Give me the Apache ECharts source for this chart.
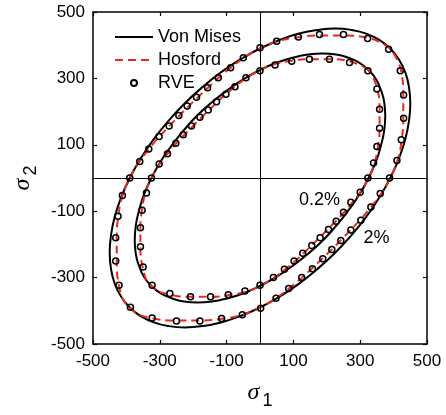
<!DOCTYPE html>
<html><head><meta charset="utf-8">
<script src="https://cdn.jsdelivr.net/npm/echarts@6/dist/echarts.min.js"></script>
<style>html,body{margin:0;padding:0;background:#fff}#c{width:446px;height:415px}</style>
</head><body><div id="c"></div>
<script>
// Axis ticks
const xTicks = [-500, -300, -100, 100, 300, 500];
const yTicks = [-500, -300, -100, 100, 300, 500];

// Von Mises yield loci (sigma1, sigma2)
const vonMises2 = [[390,390],[357,416],[318,435],[274,446],[225,450],[172,446],[117,435],[59,416],[0,390],[-59,357],[-117,318],[-172,274],[-225,225],[-274,172],[-318,117],[-357,59],[-390,0],[-416,-59],[-435,-117],[-446,-172],[-450,-225],[-446,-274],[-435,-318],[-416,-357],[-390,-390],[-357,-416],[-318,-435],[-274,-446],[-225,-450],[-172,-446],[-117,-435],[-59,-416],[0,-390],[59,-357],[117,-318],[172,-274],[225,-225],[274,-172],[318,-117],[357,-59],[390,0],[416,59],[435,117],[446,172],[450,225],[446,274],[435,318],[416,357],[390,390]];
const vonMises02 = [[325,325],[298,347],[265,362],[228,372],[188,375],[144,372],[97,362],[49,347],[0,325],[-49,298],[-97,265],[-144,228],[-188,188],[-228,144],[-265,97],[-298,49],[-325,0],[-347,-49],[-362,-97],[-372,-144],[-375,-188],[-372,-228],[-362,-265],[-347,-298],[-325,-325],[-298,-347],[-265,-362],[-228,-372],[-188,-375],[-144,-372],[-97,-362],[-49,-347],[0,-325],[49,-298],[97,-265],[144,-228],[188,-188],[228,-144],[265,-97],[298,-49],[325,0],[347,49],[362,97],[372,144],[375,188],[372,228],[362,265],[347,298],[325,325]];

// Hosford yield loci
const hosford2 = [[390,390],[324,422],[248,429],[178,429],[114,424],[54,412],[0,390],[-48,362],[-89,331],[-125,301],[-157,271],[-186,243],[-215,215],[-243,186],[-271,157],[-301,125],[-331,89],[-362,48],[-390,0],[-412,-54],[-424,-114],[-429,-178],[-429,-248],[-422,-324],[-390,-390],[-324,-422],[-248,-429],[-178,-429],[-114,-424],[-54,-412],[0,-390],[48,-362],[89,-331],[125,-301],[157,-271],[186,-243],[215,-215],[243,-186],[271,-157],[301,-125],[331,-89],[362,-48],[390,0],[412,54],[424,114],[429,178],[429,248],[422,324],[390,390]];
const hosford02 = [[325,325],[270,351],[206,358],[148,358],[95,353],[45,343],[0,325],[-40,302],[-74,276],[-104,251],[-131,226],[-155,202],[-179,179],[-202,155],[-226,131],[-251,104],[-276,74],[-302,40],[-325,0],[-343,-45],[-353,-95],[-358,-148],[-358,-206],[-351,-270],[-325,-325],[-270,-351],[-206,-358],[-148,-358],[-95,-353],[-45,-343],[0,-325],[40,-302],[74,-276],[104,-251],[131,-226],[155,-202],[179,-179],[202,-155],[226,-131],[251,-104],[276,-74],[302,-40],[325,0],[343,45],[353,95],[358,148],[358,206],[351,270],[325,325]];

// RVE points
const rve2 = [[0,392],[50,412],[115,425],[178,432],[250,432],[322,420],[385,388],[420,323],[430,250],[430,180],[423,115],[410,53],[388,0],[360,-47],[332,-87],[302,-127],[272,-157],[242,-188],[215,-215],[188,-243],[157,-273],[125,-300],[86,-333],[48,-362],[2,-392],[-53,-412],[-115,-423],[-180,-431],[-250,-431],[-323,-422],[-388,-389],[-422,-323],[-432,-250],[-432,-180],[-425,-115],[-412,-53],[-390,0],[-360,50],[-333,87],[-302,125],[-272,157],[-243,188],[-218,217],[-190,243],[-157,272],[-125,302],[-88,332],[-50,362]];
const rve02 = [[0,323],[45,340],[95,352],[148,358],[208,358],[268,348],[323,323],[350,268],[358,207],[358,150],[350,95],[340,45],[323,0],[300,-43],[272,-73],[250,-103],[228,-130],[205,-155],[180,-180],[155,-203],[128,-227],[102,-250],[73,-275],[40,-300],[0,-323],[-45,-340],[-95,-352],[-148,-358],[-208,-358],[-270,-348],[-323,-323],[-350,-268],[-358,-207],[-358,-150],[-353,-97],[-340,-45],[-325,0],[-302,42],[-277,73],[-252,105],[-230,130],[-205,157],[-180,183],[-155,205],[-130,230],[-102,252],[-75,275],[-42,302]];

// Curve annotations
const annotations = [[178,-66,'0.2%'],[349,-180,'2%']];

const FONT = '"Liberation Sans", Arial, Helvetica, sans-serif';
const nameRich = {
  s: {fontFamily: '"Liberation Serif", "Times New Roman", serif', fontStyle: 'italic', fontSize: 24, color: '#000'},
  n: {fontFamily: FONT, fontSize: 18, color: '#000', padding: [16, 0, 0, 3]}
};
function axisCommon(ticks) {
  return {
    type: 'value', min: ticks[0], max: ticks[ticks.length - 1], interval: ticks[1] - ticks[0],
    axisLine: {show: true, onZero: false, lineStyle: {color: '#000', width: 1.5}},
    axisTick: {show: true, inside: true, length: 4, lineStyle: {color: '#000', width: 1.2}},
    splitLine: {show: false}
  };
}
const chart = echarts.init(document.getElementById('c'), null, {renderer: 'canvas'});
const VM = {type: 'line', smooth: true, symbol: 'none', z: 2,
  lineStyle: {color: '#000', width: 2}, itemStyle: {color: '#000'}};
const HF = {type: 'line', smooth: true, symbol: 'none', z: 3,
  lineStyle: {color: '#e8291c', width: 2, type: [8, 5]}, itemStyle: {color: '#e8291c'}};
const RV = {type: 'scatter', symbol: 'circle', symbolSize: 6, z: 4,
  itemStyle: {color: 'rgba(255,255,255,0)', borderColor: '#000', borderWidth: 1.5, opacity: 1}};
chart.setOption({
  animation: false,
  backgroundColor: '#fff',
  textStyle: {fontFamily: FONT},
  grid: {left: 93, top: 12, width: 334, height: 332, containLabel: false},
  legend: {
    orient: 'vertical', left: 114, top: 28, padding: 0, itemWidth: 38, itemHeight: 6, itemGap: 5,
    textStyle: {fontFamily: FONT, fontSize: 18, color: '#000'},
    data: [
      {name: 'Von Mises', itemStyle: {opacity: 0}},
      {name: 'Hosford', itemStyle: {opacity: 0}},
      {name: 'RVE'}
    ]
  },
  xAxis: [
    Object.assign(axisCommon(xTicks), {position: 'bottom',
      axisLabel: {color: '#000', fontSize: 17, fontFamily: FONT, margin: 9},
      name: '{s|σ}{n|1}', nameLocation: 'middle', nameGap: 32,
      nameTextStyle: {rich: nameRich}}),
    Object.assign(axisCommon(xTicks), {position: 'top', axisLabel: {show: false}})
  ],
  yAxis: [
    Object.assign(axisCommon(yTicks), {position: 'left',
      axisLabel: {color: '#000', fontSize: 17, fontFamily: FONT, margin: 8},
      name: '{s|σ}{n|2}', nameLocation: 'middle', nameGap: 52, nameRotate: 90,
      nameTextStyle: {rich: nameRich}}),
    Object.assign(axisCommon(yTicks), {position: 'right', axisLabel: {show: false}})
  ],
  series: [
    Object.assign({}, VM, {name: 'Von Mises', data: vonMises2,
      markLine: {silent: true, symbol: ['none', 'none'], label: {show: false},
        lineStyle: {color: '#000', width: 1, type: 'solid'},
        data: [{xAxis: 0}, {yAxis: 0}]}}),
    Object.assign({}, VM, {name: 'Von Mises', data: vonMises02}),
    Object.assign({}, HF, {name: 'Hosford', data: hosford2}),
    Object.assign({}, HF, {name: 'Hosford', data: hosford02}),
    Object.assign({}, RV, {name: 'RVE', data: rve2}),
    Object.assign({}, RV, {name: 'RVE', data: rve02}),
    {type: 'scatter', name: 'labels', symbolSize: 0, silent: true, z: 5, data: annotations,
      itemStyle: {opacity: 1},
      label: {show: true, position: 'inside', color: '#000', fontSize: 18, fontFamily: FONT,
        formatter: function (p) { return p.value[2]; }}}
  ]
});
</script></body></html>
